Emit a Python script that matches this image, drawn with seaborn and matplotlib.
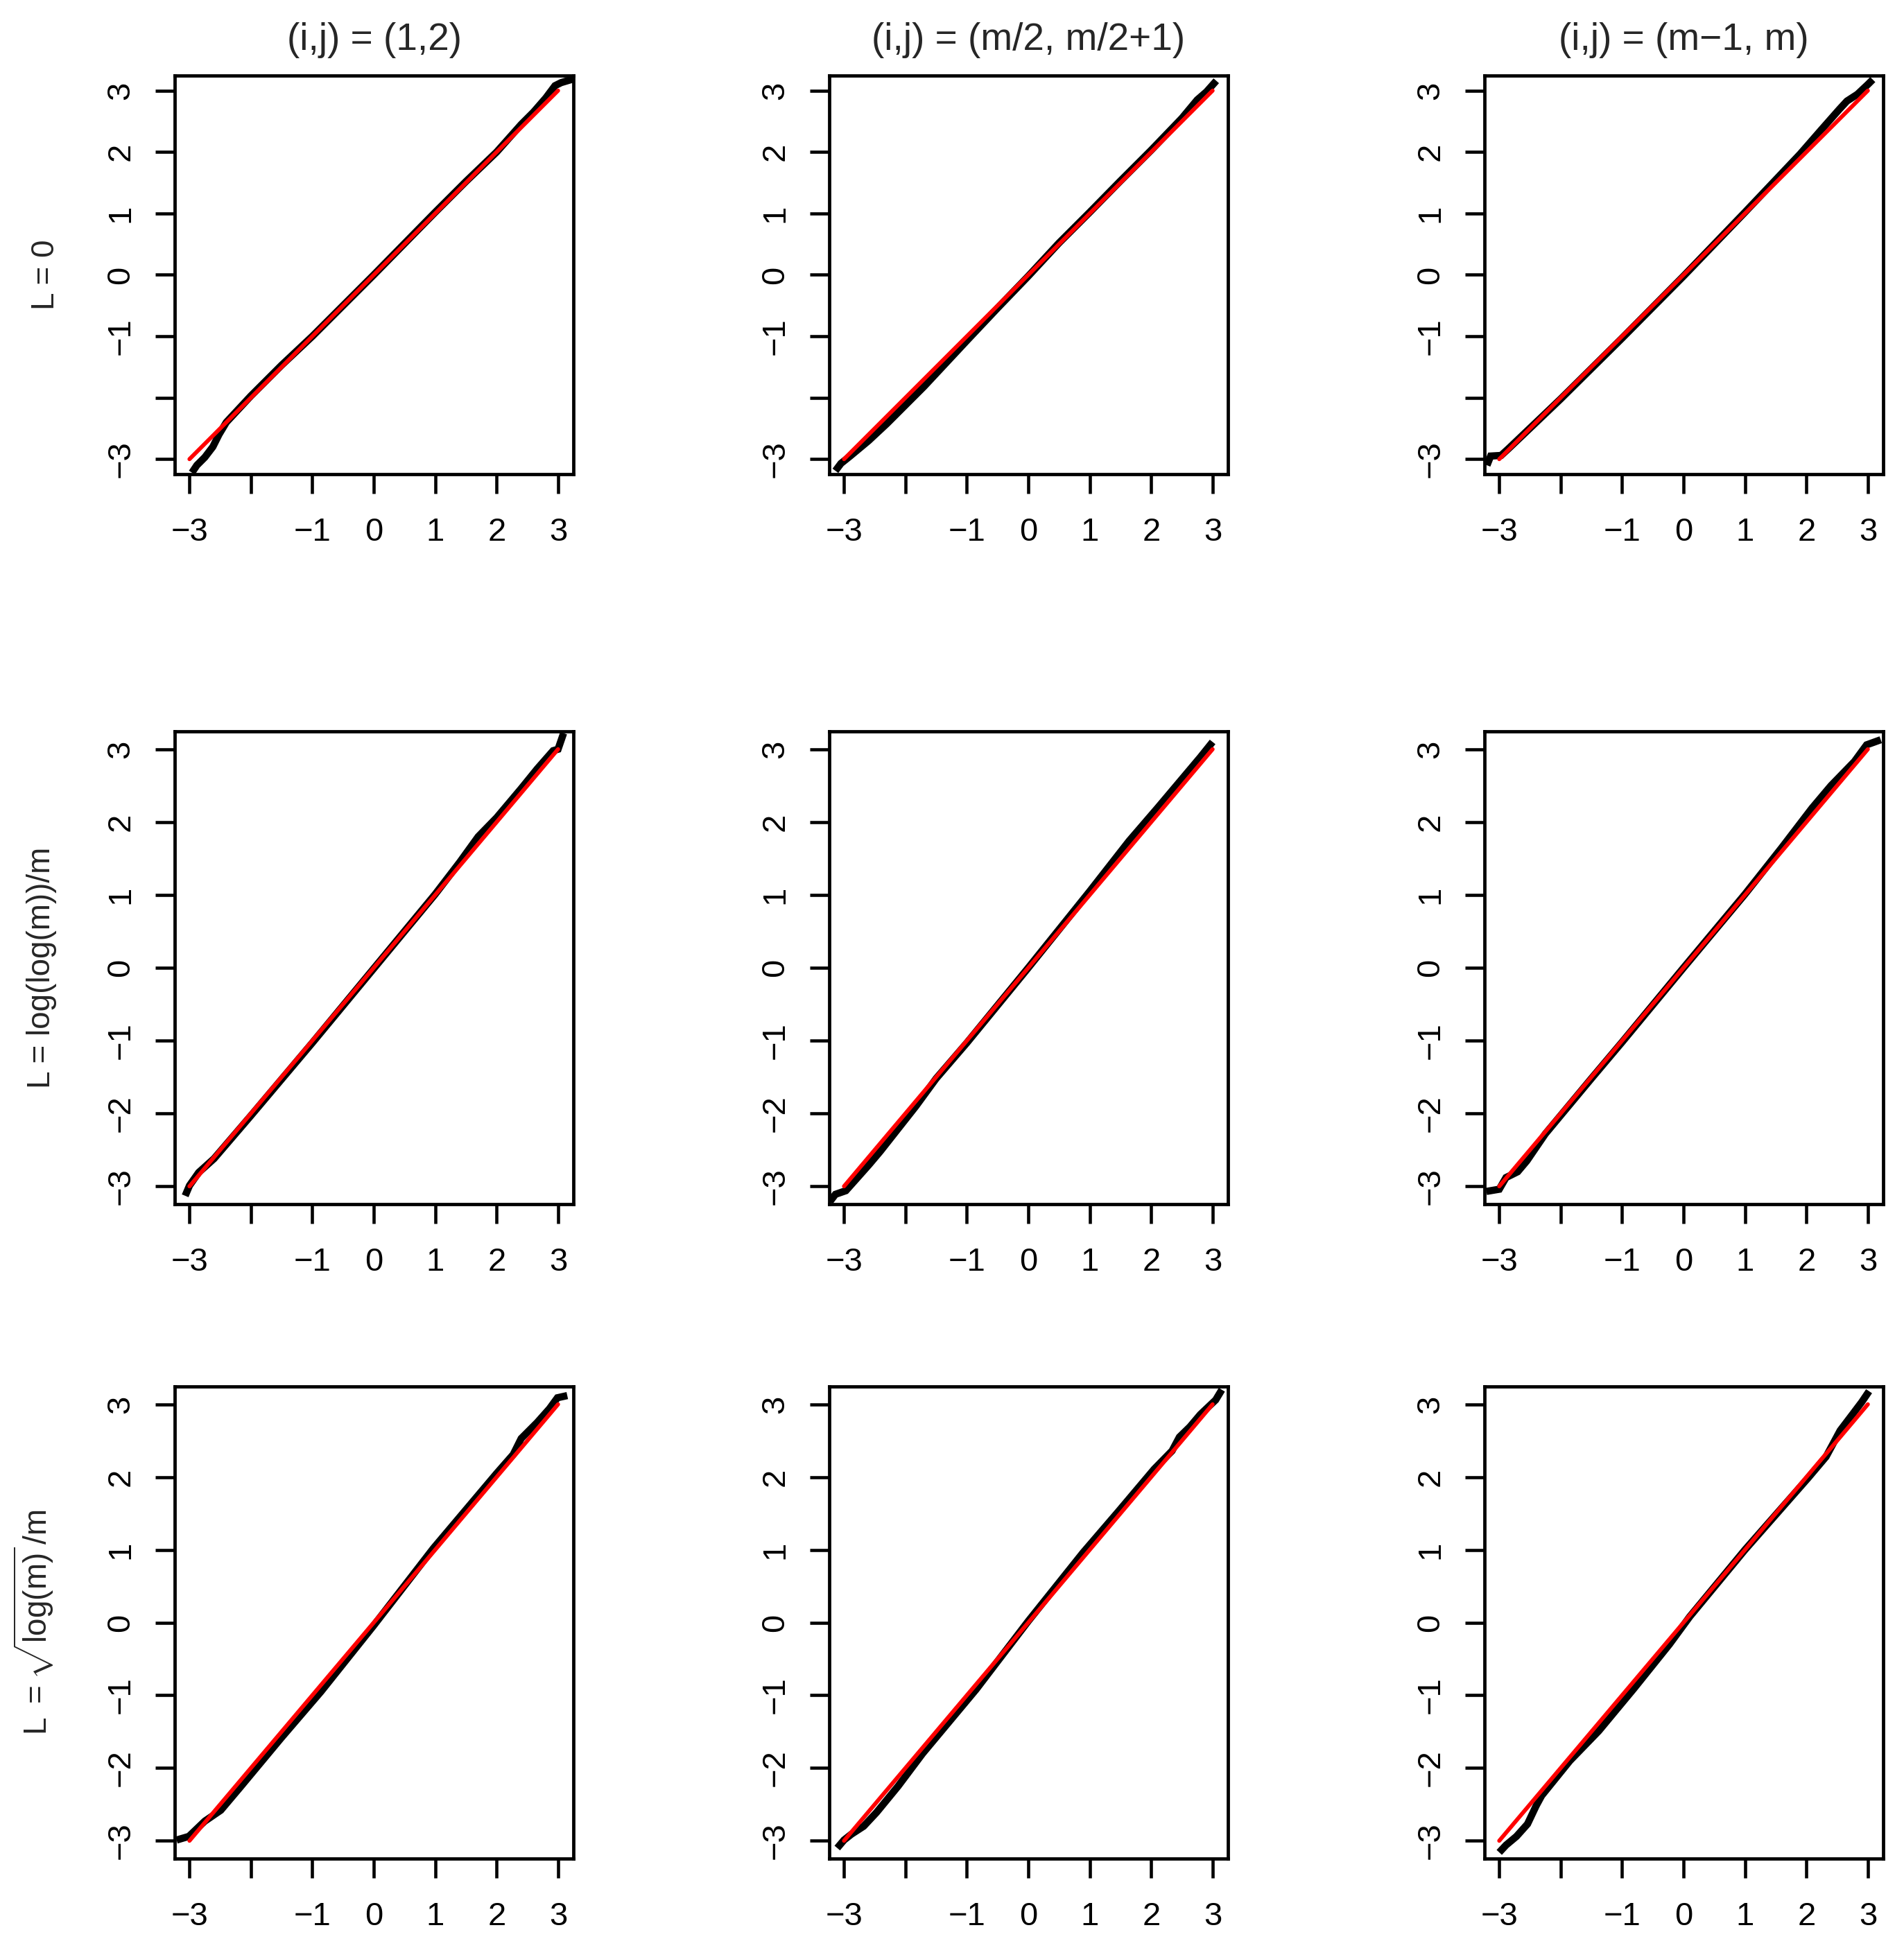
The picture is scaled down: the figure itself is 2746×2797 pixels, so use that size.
import matplotlib
matplotlib.use("Agg")
import matplotlib.pyplot as plt
import seaborn as sns

# values (theoretical quantile, sample quantile)
r1c1_x = [-2.96, -2.88, -2.75, -2.62, -2.52, -2.40, -2.0, -1.5, -1.0, 0.0, 1.0, 1.5, 2.0, 2.4, 2.6, 2.8, 2.95, 3.05, 3.25]
r1c1_y = [-3.22, -3.10, -2.97, -2.80, -2.60, -2.40, -1.97, -1.47, -1.0, 0.0, 1.02, 1.52, 2.0, 2.45, 2.65, 2.88, 3.08, 3.13, 3.19]

r1c2_x = [-3.14, -3.05, -2.9, -2.6, -2.3, -1.7, -1.0, -0.5, 0.0, 0.5, 1.0, 1.5, 2.0, 2.5, 2.75, 2.9, 3.06]
r1c2_y = [-3.19, -3.07, -2.95, -2.70, -2.42, -1.82, -1.07, -0.54, -0.02, 0.52, 1.02, 1.53, 2.03, 2.55, 2.85, 2.98, 3.16]

r1c3_x = [-3.20, -3.14, -2.97, -2.85, -2.0, -1.0, 0.0, 1.0, 1.9, 2.24, 2.54, 2.66, 2.83, 3.0, 3.08]
r1c3_y = [-3.10, -2.95, -2.94, -2.83, -2.02, -1.03, -0.02, 1.02, 1.97, 2.36, 2.70, 2.83, 2.94, 3.10, 3.18]

r2c1_x = [-3.07, -3.0, -2.85, -2.6, -2.0, -1.0, 0.0, 1.0, 1.4, 1.7, 2.0, 2.4, 2.66, 2.92, 3.0, 3.09]
r2c1_y = [-3.13, -2.99, -2.81, -2.62, -2.03, -1.03, -0.01, 1.01, 1.45, 1.80, 2.06, 2.46, 2.73, 2.98, 3.0, 3.22]

r2c2_x = [-3.23, -3.14, -2.97, -2.79, -2.59, -2.41, -2.12, -1.83, -1.5, -1.0, 0.0, 1.0, 1.64, 2.11, 2.51, 2.80, 3.0]
r2c2_y = [-3.21, -3.11, -3.06, -2.89, -2.70, -2.52, -2.21, -1.90, -1.52, -1.03, 0.0, 1.05, 1.74, 2.20, 2.60, 2.89, 3.10]

r2c3_x = [-3.21, -3.0, -2.89, -2.70, -2.55, -2.25, -1.5, -1.0, 0.0, 1.0, 1.6, 2.09, 2.4, 2.78, 2.98, 3.21]
r2c3_y = [-3.07, -3.04, -2.88, -2.80, -2.65, -2.28, -1.52, -1.02, 0.0, 1.01, 1.65, 2.19, 2.50, 2.83, 3.06, 3.13]

r3c1_x = [-3.21, -3.01, -2.75, -2.49, -2.17, -1.51, -0.86, 0.0, 0.97, 1.5, 2.0, 2.27, 2.40, 2.66, 2.86, 2.99, 3.15]
r3c1_y = [-2.99, -2.94, -2.73, -2.58, -2.26, -1.59, -0.95, -0.04, 1.02, 1.55, 2.05, 2.31, 2.53, 2.75, 2.94, 3.09, 3.12]

r3c2_x = [-3.11, -3.0, -2.88, -2.68, -2.47, -2.12, -1.72, -0.85, 0.0, 0.89, 1.47, 2.05, 2.34, 2.46, 2.63, 2.80, 3.05, 3.15]
r3c2_y = [-3.10, -2.99, -2.91, -2.80, -2.61, -2.25, -1.80, -0.92, 0.02, 0.96, 1.53, 2.11, 2.36, 2.55, 2.69, 2.86, 3.06, 3.20]

r3c3_x = [-3.0, -2.89, -2.72, -2.54, -2.40, -2.31, -1.85, -1.38, -0.81, -0.23, 0.1, 1.0, 2.03, 2.32, 2.55, 2.73, 2.90, 3.02]
r3c3_y = [-3.16, -3.06, -2.94, -2.77, -2.52, -2.38, -1.90, -1.49, -0.91, -0.30, 0.08, 1.0, 1.99, 2.28, 2.64, 2.84, 3.03, 3.18]

ref_x = [-3, 3]
ref_y = [-3, 3]

col_titles = ["(i,j) = (1,2)", "(i,j) = (m/2, m/2+1)", "(i,j) = (m\u22121, m)"]
row_labels = ["L = 0", "L = log(log(m))/m", r"$\mathrm{L}\ =\sqrt{\mathrm{log(m)}}\,/\mathrm{m}$"]

tick_vals = [-3, -2, -1, 0, 1, 2, 3]
x_labels = ["\u22123", "", "\u22121", "0", "1", "2", "3"]
y_labels_short = ["\u22123", "", "\u22121", "0", "1", "2", "3"]
y_labels_full = ["\u22123", "\u22122", "\u22121", "0", "1", "2", "3"]

panels = [
    [(r1c1_x, r1c1_y), (r1c2_x, r1c2_y), (r1c3_x, r1c3_y)],
    [(r2c1_x, r2c1_y), (r2c2_x, r2c2_y), (r2c3_x, r2c3_y)],
    [(r3c1_x, r3c1_y), (r3c2_x, r3c2_y), (r3c3_x, r3c3_y)],
]

W, H, DPI = 2746, 2797, 300

sns.set_theme(style="white")
plt.rcParams["font.family"] = ["Liberation Sans", "DejaVu Sans"]
plt.rcParams["mathtext.fontset"] = "custom"
plt.rcParams["mathtext.rm"] = "Liberation Sans"
plt.rcParams["mathtext.it"] = "Liberation Sans"
plt.rcParams["mathtext.bf"] = "Liberation Sans:bold"

fig = plt.figure(figsize=(W / DPI, H / DPI), dpi=DPI)
fig.patch.set_facecolor("white")

# layout in pixels of the reference
col_left = [252, 1196, 2141]
col_w = 575
row_top = [109, 1055, 2000]
row_h = [575, 682, 681]
label_x = [78, 72, 68]

for r in range(3):
    for c in range(3):
        l, t, h = col_left[c], row_top[r], row_h[r]
        ax = fig.add_axes([l / W, 1 - (t + h) / H, col_w / W, h / H])
        xs, ys = panels[r][c]
        sns.lineplot(x=xs, y=ys, ax=ax, color="black", linewidth=2.5,
                     estimator=None, sort=False, solid_capstyle="butt",
                     solid_joinstyle="miter")
        sns.lineplot(x=ref_x, y=ref_y, ax=ax, color="red", linewidth=1.4,
                     estimator=None, sort=False)
        ax.set_xlim(-3.24, 3.25)
        ax.set_ylim(-3.245, 3.245)
        ax.set_xticks(tick_vals)
        ax.set_xticklabels(x_labels)
        ax.set_yticks(tick_vals)
        ax.set_yticklabels(y_labels_short if r == 0 else y_labels_full)
        ax.tick_params(axis="both", direction="out", length=6.8, width=1.1,
                       color="black", labelsize=11.3, labelcolor="black",
                       bottom=True, left=True)
        ax.tick_params(axis="x", pad=8)
        ax.tick_params(axis="y", pad=6.5, labelrotation=90)
        for lbl in ax.get_yticklabels():
            lbl.set_va("center")
        for sp in ax.spines.values():
            sp.set_visible(True)
            sp.set_color("black")
            sp.set_linewidth(1.15)
        ax.set_xlabel("")
        ax.set_ylabel("")
        if r == 0:
            ax.set_title(col_titles[c], fontsize=13.2, pad=8.9)
    yc = row_top[r] + row_h[r] / 2
    fig.text(label_x[r] / W, 1 - yc / H, row_labels[r], rotation=90,
             rotation_mode="anchor", ha="center", va="baseline", fontsize=11)

fig.savefig("out.png", dpi=DPI, facecolor="white")
